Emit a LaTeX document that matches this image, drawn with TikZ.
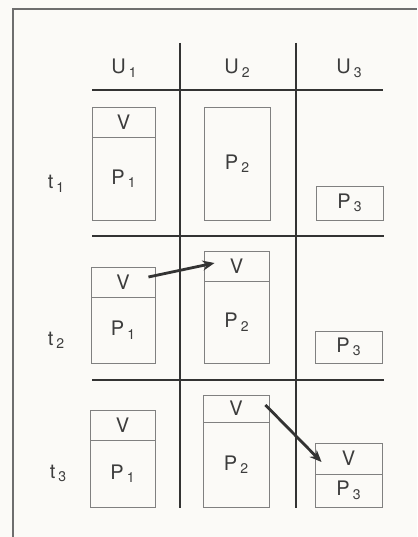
\documentclass[tikz,border=0pt]{standalone}
\usepackage{fontspec}
\setmainfont{TeX Gyre Heros}
\usetikzlibrary{arrows.meta}
\definecolor{txtc}{HTML}{3C3C3C}
\definecolor{gridc}{HTML}{333333}
\definecolor{boxc}{HTML}{808080}
\definecolor{framec}{HTML}{6E6E6E}
\definecolor{bgc}{HTML}{FBFAF7}
\newcommand\subsc[1]{\hspace{3pt}\raisebox{-3.5pt}{\fontsize{14}{15}\selectfont #1}}
\begin{document}
\begin{tikzpicture}[x=1pt,y=-1pt,
  lbl/.style={text=txtc,font=\fontsize{20}{22}\selectfont,inner sep=0pt},
  cell/.style={draw=boxc,line width=0.9pt,inner sep=0pt,text=txtc,font=\fontsize{20}{22}\selectfont},
  gridline/.style={draw=gridc,line width=2.3pt},
  moveto/.style={draw=gridc,line width=2.8pt,-{Stealth[length=12pt,width=10pt]}}]
\fill[bgc] (0,0) rectangle (417,537);
\useasboundingbox (0,0) rectangle (417,537);
% frame (cut by the picture edge)
\draw[framec,line width=1.4pt] (13,537) -- (13,9) -- (417,9);
% grid
\draw[gridline] (180,43) -- (180,508);
\draw[gridline] (296,43) -- (296,508);
\draw[gridline] (92,90) -- (383,90);
\draw[gridline] (92,236) -- (384,236);
\draw[gridline] (92,380) -- (384,380);
% headers
\node[lbl,anchor=base] (u1) at (124,74) {U\subsc{1}};
\node[lbl,anchor=base] (u2) at (237,74) {U\subsc{2}};
\node[lbl,anchor=base] (u3) at (349,74) {U\subsc{3}};
\node[lbl,anchor=base] (t1) at (56,189) {t\subsc{1}};
\node[lbl,anchor=base] (t2) at (56,345) {t\subsc{2}};
\node[lbl,anchor=base] (t3) at (58,478) {t\subsc{3}};
% row 1
\node[cell,minimum width=63pt,minimum height=30pt] (v11) at (123.5,122) {V};
\node[cell,minimum width=63pt,minimum height=83pt] (p11) at (123.5,178.5) {P\subsc{1}};
\node[cell,minimum width=66pt,minimum height=113pt] (p12) at (237,163.5) {P\subsc{2}};
\node[cell,minimum width=67pt,minimum height=34pt] (p13) at (349.5,203) {P\subsc{3}};
% row 2
\node[cell,minimum width=64pt,minimum height=30pt] (v21) at (123,282) {V};
\node[cell,minimum width=64pt,minimum height=66pt] (p21) at (123,330) {P\subsc{1}};
\node[cell,minimum width=65pt,minimum height=30pt] (v22) at (236.5,266) {V};
\node[cell,minimum width=65pt,minimum height=82pt] (p22) at (236.5,322) {P\subsc{2}};
\node[cell,minimum width=67pt,minimum height=32pt] (p23) at (348.5,347) {P\subsc{3}};
% row 3
\node[cell,minimum width=65pt,minimum height=30pt] (v31) at (122.5,425) {V};
\node[cell,minimum width=65pt,minimum height=67pt] (p31) at (122.5,473.5) {P\subsc{1}};
\node[cell,minimum width=66pt,minimum height=27pt] (v32) at (236,408.5) {V};
\node[cell,minimum width=66pt,minimum height=85pt] (p32) at (236,464.5) {P\subsc{2}};
\node[cell,minimum width=67pt,minimum height=31pt] (v33) at (348.5,458.5) {V};
\node[cell,minimum width=67pt,minimum height=33pt] (p33) at (348.5,490.5) {P\subsc{3}};
% migrations
\draw[moveto] ([xshift=-7pt,yshift=5pt]v21.east) -- ([xshift=11pt,yshift=3pt]v22.west);
\draw[moveto] ([xshift=-4pt,yshift=3.5pt]v32.east) -- ([xshift=7pt,yshift=-3.5pt]v33.west);
\end{tikzpicture}
\end{document}
